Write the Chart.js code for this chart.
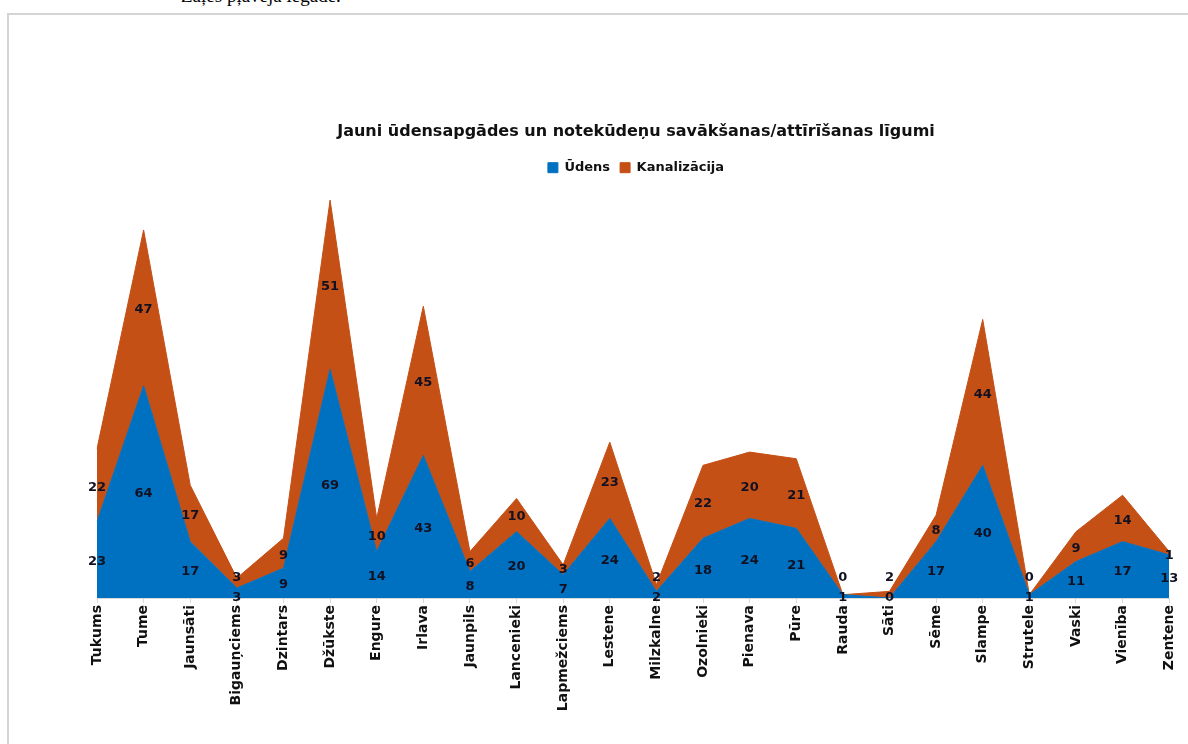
<!DOCTYPE html>
<html>
<head>
<meta charset="utf-8">
<script src="https://cdn.jsdelivr.net/npm/chart.js@4"></script>
<style>
  body { margin: 0; background: #fff; width: 1188px; height: 744px; overflow: hidden; position: relative; }
  #cap { position: absolute; left: 181px; top: -15px; font-family: "Liberation Serif", serif; font-size: 19px; color: #000; white-space: nowrap; }
  #frame { position: absolute; left: 7px; top: 13px; width: 1300px; height: 900px; border: 2px solid #d4d4d4; box-sizing: border-box; }
  #wrap { position: absolute; left: 0; top: 0; width: 1188px; height: 744px; }
</style>
</head>
<body>
<div id="cap">Zaļes pļaveja legade.</div>
<div id="frame"></div>
<div id="wrap"><canvas id="homeChart" width="1188" height="744"></canvas></div>
<script>
const places = ['Tukums', 'Tume', 'Jaunsāti', 'Bigauņciems', 'Dzintars', 'Džūkste', 'Engure', 'Irlava',
  'Jaunpils', 'Lancenieki', 'Lapmežciems', 'Lestene', 'Milzkalne', 'Ozolnieki', 'Pienava', 'Pūre',
  'Rauda', 'Sāti', 'Sēme', 'Slampe', 'Strutele', 'Vaski', 'Vienība', 'Zentene'];
const udens = [23, 64, 17, 3, 9, 69, 14, 43, 8, 20, 7, 24, 2, 18, 24, 21, 1, 0, 17, 40, 1, 11, 17, 13];
const kanalizacija = [22, 47, 17, 3, 9, 51, 10, 45, 6, 10, 3, 23, 2, 22, 20, 21, 0, 2, 8, 44, 0, 9, 14, 1];

const chartTitle = 'Jauni ūdensapgādes un notekūdeņu savākšanas/attīrīšanas līgumi';
const fontName = '"DejaVu Sans", "Noto Sans", sans-serif';

// number of each segment in its middle, pushed apart when two would overlap
const segmentLabels = {
  id: 'segmentLabels',
  afterDatasetsDraw(chart) {
    const ctx = chart.ctx;
    const y = chart.scales.y;
    const x = chart.scales.x;
    ctx.save();
    ctx.font = 'bold 13px ' + fontName;
    ctx.fillStyle = '#111122';
    ctx.textAlign = 'center';
    ctx.textBaseline = 'middle';
    for (let i = 0; i < places.length; i++) {
      const px = x.getPixelForValue(i);
      const base = y.getPixelForValue(0);
      const blueTop = y.getPixelForValue(udens[i]);
      const allTop = y.getPixelForValue(udens[i] + kanalizacija[i]);
      let yb = (base + blueTop) / 2 + 2;
      let yo = (blueTop + allTop) / 2 + 2;
      if (yb - yo < 20) {
        const mid = (yb + yo) / 2;
        yb = mid + 10;
        yo = mid - 10;
      }
      if (yb > base) {
        const d = yb - base;
        yb -= d;
        yo -= d;
      }
      ctx.fillText(String(udens[i]), px, yb);
      ctx.fillText(String(kanalizacija[i]), px, yo);
    }
    ctx.restore();
  }
};

const ctxMain = document.getElementById('homeChart').getContext('2d');
let myChart = new Chart(ctxMain, {
  type: 'line',
  data: {
    labels: places,
    datasets: [{
      label: 'Ūdens',
      data: udens,
      fill: 'origin',
      backgroundColor: '#0070C0',
      borderColor: '#0070C0',
      borderWidth: 1,
      pointRadius: 0,
      tension: 0
    }, {
      label: 'Kanalizācija',
      data: kanalizacija,
      fill: '-1',
      backgroundColor: '#C55016',
      borderColor: '#C55016',
      borderWidth: 1,
      pointRadius: 0,
      tension: 0
    }]
  },
  options: {
    responsive: false,
    animation: false,
    layout: { padding: { left: 97, right: 13, top: 122, bottom: 0 } },
    plugins: {
      title: {
        display: true,
        text: chartTitle,
        color: '#111',
        font: { family: fontName, size: 16, weight: 'bold' },
        padding: { top: 0, bottom: 10 }
      },
      legend: {
        display: true,
        labels: {
          color: '#111',
          font: { family: fontName, size: 13, weight: 'bold' },
          boxWidth: 10,
          boxHeight: 10,
          padding: 10
        }
      },
      tooltip: { enabled: false }
    },
    scales: {
      x: {
        offset: false,
        grid: { display: true, drawOnChartArea: false, drawTicks: true, tickLength: 5, color: '#d9d9d9' },
        border: { display: true, color: '#d9d9d9' },
        ticks: {
          color: '#111',
          minRotation: 90,
          maxRotation: 90,
          autoSkip: false,
          padding: 2,
          font: { family: fontName, size: 14, weight: 'bold' }
        },
        afterFit(scale) { scale.height = 146; }
      },
      y: {
        display: false,
        stacked: true,
        min: 0,
        max: 124.8
      }
    }
  },
  plugins: [segmentLabels]
});
</script>
</body>
</html>
